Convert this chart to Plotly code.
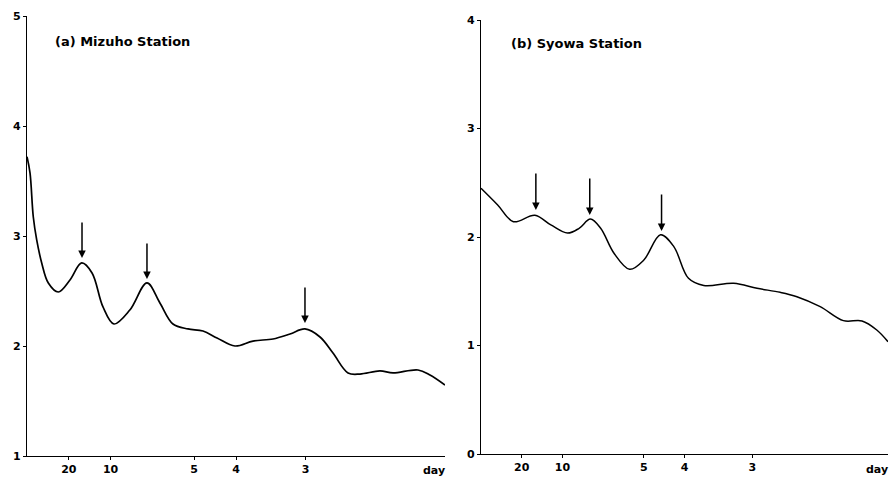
import plotly.graph_objects as go

# ---- data (frequency in cycles/day, spectral value) ----
freq_a = [0.0, 0.0036, 0.0075, 0.0116, 0.0176, 0.0255, 0.0374, 0.0514, 0.0654, 0.0778,
          0.0909, 0.104, 0.123, 0.1435, 0.159, 0.1746, 0.1926, 0.2105, 0.2273, 0.2488,
          0.2703, 0.2943, 0.3146, 0.3325, 0.3505, 0.366, 0.384, 0.3983, 0.4222, 0.4378,
          0.4677, 0.482, 0.5]
val_a = [3.72, 3.573, 3.175, 2.964, 2.755, 2.573, 2.491, 2.60, 2.755, 2.664,
         2.355, 2.20, 2.327, 2.573, 2.391, 2.20, 2.155, 2.136, 2.073, 2.0,
         2.045, 2.064, 2.109, 2.155, 2.082, 1.936, 1.755, 1.745, 1.773, 1.755,
         1.782, 1.736, 1.645]

freq_b = [0.0, 0.0205, 0.0398, 0.0662, 0.0858, 0.1063, 0.1205, 0.1344, 0.147, 0.1634,
          0.1826, 0.2001, 0.2206, 0.2369, 0.2549, 0.2737, 0.3104, 0.3391, 0.3676, 0.3881,
          0.4167, 0.4452, 0.4681, 0.4862, 0.5]
val_b = [2.449, 2.295, 2.141, 2.20, 2.111, 2.036, 2.08, 2.165, 2.08, 1.85,
         1.702, 1.788, 2.021, 1.911, 1.619, 1.553, 1.573, 1.527, 1.49, 1.45,
         1.358, 1.229, 1.226, 1.143, 1.035]

# arrow marks (peak frequency, value at arrow tip)
arrow_f_a = [0.0658, 0.1435, 0.3325]
arrow_v_a = [2.80, 2.609, 2.209]
arrow_f_b = [0.0674, 0.1336, 0.2218]
arrow_v_b = [2.249, 2.203, 2.055]

period_ticks = [20, 10, 5, 4, 3]
tick_text = ["20", "10", "5", "4", "3"]
yticks_a = [1, 2, 3, 4, 5]
yticks_b = [0, 1, 2, 3, 4]

W, H = 893, 478
fig = go.Figure()
fig.add_trace(go.Scatter(x=freq_a, y=val_a, mode="lines", xaxis="x", yaxis="y",
                         line=dict(color="black", width=1.7, shape="spline", smoothing=1.0),
                         showlegend=False, hoverinfo="skip"))
fig.add_trace(go.Scatter(x=freq_b, y=val_b, mode="lines", xaxis="x2", yaxis="y2",
                         line=dict(color="black", width=1.5, shape="spline", smoothing=1.0),
                         showlegend=False, hoverinfo="skip"))

tickfont = dict(family="DejaVu Sans", size=11, color="black", weight="bold")
tickvals = [1.0 / p for p in period_ticks]
common_x = dict(range=[0, 0.5], tickvals=tickvals, ticktext=tick_text, showgrid=False,
                zeroline=False, showline=True, linecolor="black", linewidth=1.3,
                ticks="outside", ticklen=3, tickcolor="black", tickfont=tickfont,
                automargin=False, fixedrange=True)
common_y = dict(showgrid=False, zeroline=False, showline=True, linecolor="black",
                linewidth=1.4, ticks="outside", ticklen=3, tickcolor="black",
                tickfont=tickfont, automargin=False, fixedrange=True)

fig.update_layout(
    width=W, height=H,
    margin=dict(l=0, r=0, t=0, b=0),
    paper_bgcolor="white", plot_bgcolor="white",
    xaxis=dict(domain=[27 / W, 445 / W], anchor="y", **common_x),
    yaxis=dict(domain=[1 - 456 / H, 1 - 16 / H], anchor="x", range=[1, 5],
               tickvals=yticks_a, **common_y),
    xaxis2=dict(domain=[481 / W, 888 / W], anchor="y2", **common_x),
    yaxis2=dict(domain=[1 - 454 / H, 1 - 20 / H], anchor="x2", range=[0, 4],
                tickvals=yticks_b, **common_y),
)

annots = []
for f, v in zip(arrow_f_a, arrow_v_a):
    annots.append(dict(x=f, y=v, xref="x", yref="y", ax=0, ay=-37, axref="pixel",
                       ayref="pixel", showarrow=True, arrowhead=2, arrowsize=1,
                       arrowwidth=1.5, arrowcolor="black", text=""))
for f, v in zip(arrow_f_b, arrow_v_b):
    annots.append(dict(x=f, y=v, xref="x2", yref="y2", ax=0, ay=-38, axref="pixel",
                       ayref="pixel", showarrow=True, arrowhead=2, arrowsize=1,
                       arrowwidth=1.5, arrowcolor="black", text=""))

title_font = dict(family="DejaVu Sans", size=13, color="black", weight="bold")
annots.append(dict(x=53 / W, y=1 - 42 / H, xref="paper", yref="paper", xanchor="left",
                   yanchor="middle", text="(a) Mizuho Station", showarrow=False,
                   font=title_font))
annots.append(dict(x=509 / W, y=1 - 43 / H, xref="paper", yref="paper", xanchor="left",
                   yanchor="middle", text="(b) Syowa Station", showarrow=False,
                   font=title_font))
day_font = dict(family="DejaVu Sans", size=11, color="black", weight="bold")
annots.append(dict(x=434 / W, y=1 - 470 / H, xref="paper", yref="paper", xanchor="center",
                   yanchor="middle", text="day", showarrow=False, font=day_font))
annots.append(dict(x=877 / W, y=1 - 469 / H, xref="paper", yref="paper", xanchor="center",
                   yanchor="middle", text="day", showarrow=False, font=day_font))
fig.update_layout(annotations=annots)

fig.write_html("out.html")
